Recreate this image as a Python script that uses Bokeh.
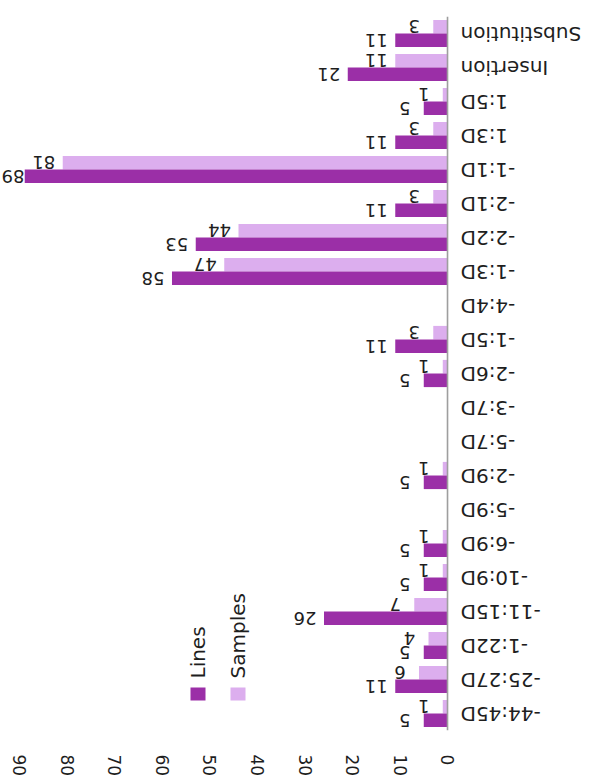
import numpy as np
from bokeh.plotting import figure
from bokeh.models import (ColumnDataSource, Range1d, FactorRange, FixedTicker, Label,
                          BoxAnnotation, Span)
from bokeh.transform import dodge
from bokeh.core.properties import value
from bokeh.embed import file_html
from bokeh.resources import INLINE

# ---- data (bottom -> top on screen) ----
categories = ["-44:45D", "-25:27D", "-1:22D", "-11:15D", "-10:9D", "-6:9D", "-5:9D",
              "-2:9D", "-5:7D", "-3:7D", "-2:6D", "-1:5D", "-4:4D", "-1:3D", "-2:2D",
              "-2:1D", "-1:1D", "1:3D", "1:5D", "Insertion", "Substitution"]
lines = [5, 11, 5, 26, 5, 5, 0, 5, 0, 0, 5, 11, 0, 58, 53, 11, 89, 11, 5, 21, 11]
samples = [1, 6, 4, 7, 1, 1, 0, 1, 0, 0, 1, 3, 0, 47, 44, 3, 81, 3, 1, 11, 3]
x_ticks = [0, 10, 20, 30, 40, 50, 60, 70, 80, 90]
series_names = ["Lines", "Samples"]

DARK = "#9b2fa7"
LIGHT = "#dcaeee"
FONT = "DejaVu Sans"
TXT = "#1e1e1e"

FRAME_W = 590
X_START, X_END = 94.1, -30.1          # value 0 sits at x≈447 px, labels live right of it
PX_PER_UNIT = FRAME_W / (X_START - X_END)
LABEL_FS = 18
LABEL_GAP = 19

p = figure(y_range=FactorRange(*categories), x_range=Range1d(X_START, X_END),
           frame_width=FRAME_W, frame_height=714, output_backend="svg",
           toolbar_location=None, y_axis_location=None,
           min_border_left=0, min_border_top=16, min_border_right=0, min_border_bottom=0)

# category axis line (at value 0)
p.add_layout(Span(location=0, dimension="height", line_color="#9e9e9e", line_width=1.6))

src = ColumnDataSource(dict(cat=categories, lines=lines, samples=samples))
p.hbar(y=dodge("cat", 0.2, range=p.y_range), left=0, right="samples", height=0.4,
       fill_color=LIGHT, line_color=None, source=src)
p.hbar(y=dodge("cat", -0.2, range=p.y_range), left=0, right="lines", height=0.4,
       fill_color=DARK, line_color=None, source=src)

def label_source(vals):
    c = [k for k, v in zip(categories, vals) if v > 0]
    v2 = [v for v in vals if v > 0]
    t = [str(v) for v in v2]
    # keep a label inside the plot when the bar nearly reaches the left edge
    offs = []
    for v, s in zip(v2, t):
        end_px = (X_START - v) * PX_PER_UNIT
        half_w = 0.64 * LABEL_FS * len(s) / 2
        offs.append(-min(LABEL_GAP, end_px - half_w - 1))
    return ColumnDataSource(dict(cat=c, v=v2, t=t, off=offs))

for vals, off in ((samples, 0.2), (lines, -0.2)):
    p.text(x="v", y=dodge("cat", off, range=p.y_range), text="t", source=label_source(vals),
           angle=np.pi, x_offset="off", text_align="center", text_baseline="middle",
           text_font=value(FONT), text_font_size=f"{LABEL_FS}px", text_color=TXT)

# category labels, upside down, to the right of the axis line
p.text(x=0, y="cat", text="cat", source=ColumnDataSource(dict(cat=categories)),
       angle=np.pi, x_offset=13, text_align="right", text_baseline="middle",
       text_font=value(FONT), text_font_size="20px", text_color=TXT)

# value axis (bottom)
xa = p.xaxis[0]
xa.ticker = FixedTicker(ticks=x_ticks)
xa.major_label_orientation = "vertical"
xa.axis_line_color = None
xa.major_tick_line_color = None
xa.minor_tick_line_color = None
xa.major_label_standoff = 18
xa.major_label_text_font = FONT
xa.major_label_text_font_size = "17px"
xa.major_label_text_color = TXT

p.xgrid.grid_line_color = None
p.ygrid.grid_line_color = None
p.outline_line_color = None

# rotated legend
for name, col, sx in ((series_names[0], DARK, 190), (series_names[1], LIGHT, 230)):
    p.add_layout(BoxAnnotation(left=sx, right=sx + 15, bottom=30, top=43,
                               left_units="screen", right_units="screen",
                               top_units="screen", bottom_units="screen",
                               fill_color=col, fill_alpha=1, line_color=None))
    p.add_layout(Label(x=sx + 7.5, y=52, x_units="screen", y_units="screen", text=name,
                       angle=np.pi / 2, text_align="left", text_baseline="middle",
                       text_font=FONT, text_font_size="20px", text_color=TXT))

open("out.html", "w").write(file_html(p, INLINE))
